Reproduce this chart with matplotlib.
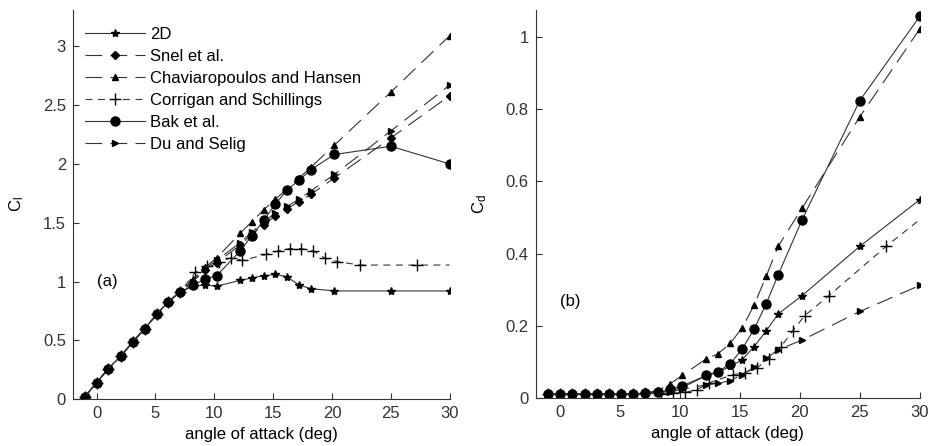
import numpy as np
import matplotlib
matplotlib.use('Agg')
import matplotlib.pyplot as plt
from matplotlib.ticker import FuncFormatter

plt.rcParams['font.family'] = ['Liberation Sans', 'DejaVu Sans']
plt.rcParams['lines.scale_dashes'] = False

# angles of attack (deg)
AOA = [-1, 0, 1, 2.1, 3.1, 4.1, 5.1, 6.1, 7.1, 8.2, 9.2, 10.2, 12.2, 13.2,
       14.2, 15.2, 16.2, 17.2, 18.2, 20.2, 25, 30]
AOA_CS = [-1, 0, 1, 2.1, 3.1, 4.1, 5.1, 6.1, 7.1, 8.4, 9.4, 10.4, 11.4, 12.4,
          14.4, 15.4, 16.4, 17.4, 18.4, 19.4, 20.4, 22.4, 27.2, 30]

LOW_CL = [0.02, 0.14, 0.26, 0.37, 0.49, 0.60, 0.72, 0.83, 0.91]

# lift coefficient
CL_2D = LOW_CL + [0.96, 0.97, 0.96, 1.01, 1.03, 1.05, 1.06, 1.04, 0.97, 0.94, 0.92, 0.92, 0.92]
CL_SNEL = LOW_CL + [1.00, 1.10, 1.16, 1.31, 1.40, 1.48, 1.56, 1.62, 1.68, 1.74, 1.88, 2.22, 2.58]
CL_CH = LOW_CL + [1.02, 1.12, 1.20, 1.41, 1.51, 1.61, 1.70, 1.79, 1.88, 1.97, 2.16, 2.61, 3.09]
CL_CS = LOW_CL + [1.08, 1.13, 1.17, 1.20, 1.18, 1.23, 1.26, 1.28, 1.28, 1.26, 1.20, 1.17, 1.14, 1.14, 1.14]
CL_BAK = LOW_CL + [0.97, 1.02, 1.05, 1.26, 1.39, 1.52, 1.66, 1.78, 1.86, 1.95, 2.08, 2.15, 2.00]
CL_DU = LOW_CL + [1.00, 1.11, 1.18, 1.33, 1.42, 1.51, 1.58, 1.64, 1.70, 1.77, 1.91, 2.28, 2.67]

LOW_CD = [0.012, 0.011, 0.012, 0.012, 0.012, 0.012, 0.012, 0.012, 0.014]

# drag coefficient
CD_2D = LOW_CD + [0.015, 0.020, 0.030, 0.062, 0.072, 0.088, 0.106, 0.143, 0.186, 0.233, 0.284, 0.420, 0.549]
CD_CH = LOW_CD + [0.022, 0.040, 0.063, 0.109, 0.123, 0.152, 0.194, 0.258, 0.337, 0.420, 0.526, 0.778, 1.021]
CD_CS = LOW_CD + [0.013, 0.014, 0.016, 0.023, 0.042, 0.065, 0.071, 0.083, 0.108, 0.141, 0.186, 0.228, 0.283, 0.420, 0.494]
CD_BAK = LOW_CD + [0.016, 0.025, 0.034, 0.063, 0.074, 0.095, 0.136, 0.191, 0.261, 0.341, 0.494, 0.823, 1.056]
CD_DU = LOW_CD + [0.014, 0.018, 0.025, 0.037, 0.041, 0.049, 0.065, 0.086, 0.110, 0.134, 0.161, 0.240, 0.312]

LABELS = ['2D', 'Snel et al.', 'Chaviaropoulos and Hansen',
          'Corrigan and Schillings', 'Bak et al.', 'Du and Selig']

lc = '#333333'
lw = 0.8
long_dash = (0, (12, 6))
short_dash = (0, (5, 4))
st_2d = dict(color=lc, lw=lw, ls='-', marker='*', ms=6, mfc='k', mec='k')
st_snel = dict(color=lc, lw=lw, ls=long_dash, marker='D', ms=4, mfc='k', mec='k')
st_ch = dict(color=lc, lw=lw, ls=long_dash, marker='^', ms=5, mfc='k', mec='k')
st_cs = dict(color=lc, lw=lw, ls=short_dash, marker='+', ms=8, mfc='k', mec='k', mew=1.0)
st_bak = dict(color=lc, lw=lw, ls='-', marker='o', ms=6.5, mfc='k', mec='k')
st_du = dict(color=lc, lw=lw, ls=long_dash, marker='>', ms=5, mfc='k', mec='k')

fig = plt.figure(figsize=(9.30, 4.46), dpi=100)
ax1 = fig.add_axes([0.0785, 0.105, 0.405, 0.873])
ax2 = fig.add_axes([0.576, 0.107, 0.413, 0.871])

cs_every = list(range(len(AOA_CS) - 1))

ax1.plot(AOA, CL_2D, label=LABELS[0], **st_2d)
ax1.plot(AOA, CL_SNEL, label=LABELS[1], **st_snel)
ax1.plot(AOA, CL_CH, label=LABELS[2], **st_ch)
ax1.plot(AOA_CS, CL_CS, label=LABELS[3], markevery=cs_every, **st_cs)
ax1.plot(AOA, CL_BAK, label=LABELS[4], **st_bak)
ax1.plot(AOA, CL_DU, label=LABELS[5], **st_du)

ax2.plot(AOA, CD_2D, **st_2d)
ax2.plot(AOA, CD_CH, **st_ch)
ax2.plot(AOA_CS, CD_CS, markevery=cs_every, **st_cs)
ax2.plot(AOA, CD_BAK, **st_bak)
ax2.plot(AOA, CD_DU, **st_du)

fmt = FuncFormatter(lambda v, p: '%g' % v)
for ax in (ax1, ax2):
    ax.set_xlim(-2, 30)
    ax.set_xticks(range(0, 31, 5))
    ax.spines['top'].set_visible(False)
    ax.spines['right'].set_visible(False)
    ax.spines['left'].set_color('#333333')
    ax.spines['bottom'].set_color('#333333')
    ax.tick_params(direction='in', labelsize=12, length=4, pad=5, colors='#333333')
    ax.yaxis.set_major_formatter(fmt)
    ax.set_xlabel('angle of attack (deg)', fontsize=12, labelpad=4)

ax1.set_ylim(0, 3.31)
ax1.set_yticks(np.arange(0, 3.01, 0.5))
ax1.set_ylabel('$\\mathregular{C_l}$', fontsize=12, labelpad=12)
ax1.text(0.05, 1.0, '(a)', fontsize=12, va='center')

ax2.set_ylim(0, 1.074)
ax2.set_yticks(np.arange(0, 1.01, 0.2))
ax2.set_ylabel('$\\mathregular{C_d}$', fontsize=12, labelpad=12)
ax2.text(0.0, 0.268, '(b)', fontsize=12, va='center')

ax1.legend(loc='upper left', bbox_to_anchor=(0.0, 0.985), frameon=False,
           fontsize=12, handlelength=3.6, handletextpad=0.3,
           labelspacing=0.42, numpoints=1, borderaxespad=0.3)

fig.savefig('out.png', dpi=100)
